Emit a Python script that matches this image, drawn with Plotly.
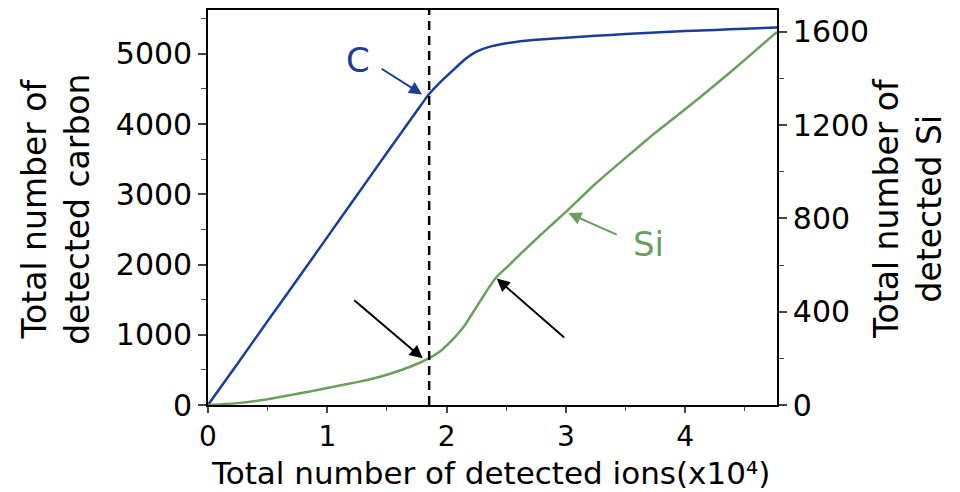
import plotly.graph_objects as go

# ---- data ----
ions_c = [0, 0.25, 0.5, 0.75, 1.0, 1.25, 1.5, 1.75, 1.85, 1.95, 2.05, 2.15, 2.25, 2.35,
          2.5, 2.75, 3.0, 3.25, 3.5, 3.75, 4.0, 4.25, 4.5, 4.77]
carbon = [0, 595, 1195, 1790, 2390, 2990, 3590, 4185, 4420, 4600, 4760, 4915, 5030, 5095,
          5150, 5200, 5228, 5255, 5282, 5303, 5323, 5340, 5355, 5375]

ions_si = [0, 0.25, 0.5, 0.75, 1.0, 1.25, 1.5, 1.7, 1.85, 1.95, 2.05, 2.15, 2.25, 2.35,
           2.42, 2.5, 2.62, 2.8, 3.0, 3.25, 3.5, 3.75, 4.0, 4.25, 4.5, 4.77]
silicon = [0, 8, 25, 48, 73, 98, 130, 165, 200, 232, 280, 340, 420, 500,
           550, 588, 648, 735, 828, 950, 1060, 1168, 1268, 1372, 1480, 1600]

marker_x = 1.854          # dashed vertical line position (x10^4 ions)
x_ticks = [0, 1, 2, 3, 4]
c_ticks = [0, 1000, 2000, 3000, 4000, 5000]
si_ticks = [0, 400, 800, 1200, 1600]

BLUE = "#1b3c9e"
GREEN = "#6b9e60"
FONT = "DejaVu Sans"

fig = go.Figure()
fig.add_trace(go.Scatter(x=ions_c, y=carbon, mode="lines",
                         line=dict(color=BLUE, width=2.5, shape="spline", smoothing=0.3), name="C"))
fig.add_trace(go.Scatter(x=ions_si, y=silicon, mode="lines", yaxis="y2",
                         line=dict(color=GREEN, width=2.5, shape="spline", smoothing=0.3), name="Si"))

fig.add_shape(type="line", xref="x", yref="paper", x0=marker_x, x1=marker_x, y0=0, y1=1,
              line=dict(color="black", width=2.5, dash="9px,6px"))

tick_font = dict(family=FONT, size=30, color="black")

fig.update_layout(
    width=960, height=492,
    margin=dict(l=208, r=183, t=8, b=87),
    paper_bgcolor="white", plot_bgcolor="white",
    showlegend=False,
    font=dict(family=FONT, color="black"),
    xaxis=dict(range=[0, 4.77], tickvals=x_ticks, ticks="outside", ticklen=6, tickwidth=1.5,
               showline=True, linewidth=1.6, linecolor="black", mirror=True,
               showgrid=False, zeroline=False, tickfont=dict(family=FONT, size=28, color="black"),
               minor=dict(dtick=0.5, ticks="outside", ticklen=4, tickwidth=1.2, showgrid=False)),
    yaxis=dict(range=[0, 5623], tickvals=c_ticks, ticks="outside", ticklen=8, tickwidth=1.5,
               showline=True, linewidth=1.6, linecolor="black",
               showgrid=False, zeroline=False, tickfont=tick_font,
               minor=dict(dtick=500, ticks="outside", ticklen=5, tickwidth=1.2, showgrid=False)),
    yaxis2=dict(range=[0, 1694], tickvals=si_ticks, overlaying="y", side="right", anchor="x",
                ticks="outside", ticklen=8, tickwidth=1.5,
                showline=True, linewidth=1.6, linecolor="black",
                showgrid=False, zeroline=False, tickfont=tick_font,
                minor=dict(dtick=200, ticks="outside", ticklen=5, tickwidth=1.2, showgrid=False)),
)

title_font = dict(family=FONT, size=33, color="black")
fig.add_annotation(text="Total number of detected ions(x10⁴)", xref="paper", yref="paper",
                   x=0.497, y=-0.173, xanchor="center", yanchor="middle", showarrow=False,
                   font=dict(family=FONT, size=31, color="black"))
fig.add_annotation(text="Total number of<br>detected carbon", xref="paper", yref="paper",
                   x=-0.2665, y=0.495, xanchor="center", yanchor="middle", showarrow=False,
                   textangle=-90, font=title_font)
fig.add_annotation(text="Total number of<br>detected Si", xref="paper", yref="paper",
                   x=1.229, y=0.497, xanchor="center", yanchor="middle", showarrow=False,
                   textangle=-90, font=title_font)

# labelled arrows
fig.add_annotation(x=1.795, y=4420, xref="x", yref="y", ax=-44, ay=-28,
                   showarrow=True, arrowhead=2, arrowsize=1.3, arrowwidth=2, arrowcolor=BLUE,
                   text=" ")
fig.add_annotation(x=1.257, y=4910, xref="x", yref="y", text="C", showarrow=False,
                   font=dict(family=FONT, size=34, color=BLUE))
fig.add_annotation(x=3.02, y=823, xref="x", yref="y2", ax=52, ay=23,
                   showarrow=True, arrowhead=2, arrowsize=1.3, arrowwidth=2, arrowcolor=GREEN,
                   text=" ")
fig.add_annotation(x=3.69, y=692, xref="x", yref="y2", text="Si", showarrow=False,
                   font=dict(family=FONT, size=34, color=GREEN))
# black arrows
fig.add_annotation(x=1.80, y=200, xref="x", yref="y2", ax=-72, ay=-61,
                   showarrow=True, arrowhead=2, arrowsize=1.3, arrowwidth=2, arrowcolor="black",
                   text=" ")
fig.add_annotation(x=2.42, y=542, xref="x", yref="y2", ax=71, ay=62,
                   showarrow=True, arrowhead=2, arrowsize=1.3, arrowwidth=2, arrowcolor="black",
                   text=" ")

fig.write_html("out.html", config={"displayModeBar": False},
               post_script="document.body.style.margin='0';document.body.style.overflow='hidden';")
